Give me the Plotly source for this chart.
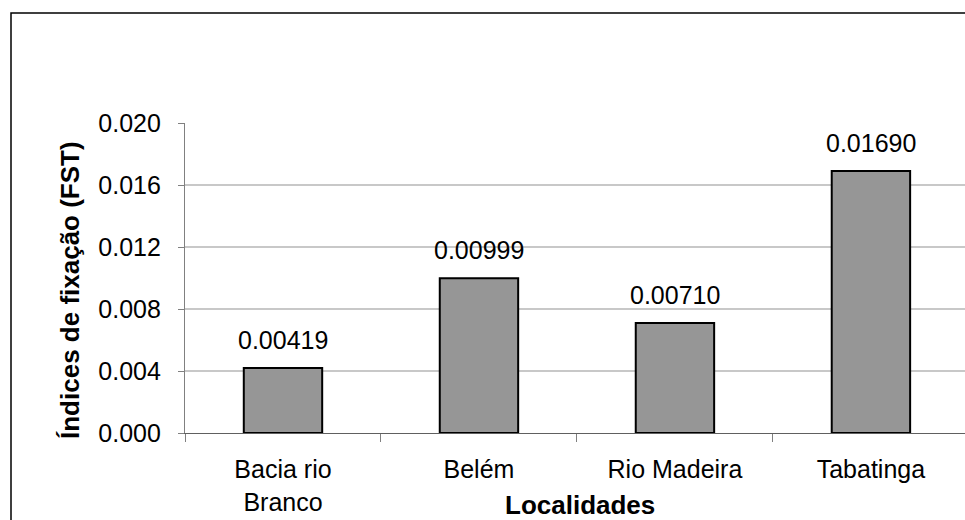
import plotly.graph_objects as go

categories = ["Bacia rio<br>Branco", "Belém", "Rio Madeira", "Tabatinga"]
values = [0.00419, 0.00999, 0.00710, 0.01690]
value_labels = ["0.00419", "0.00999", "0.00710", "0.01690"]
y_ticks = [0.000, 0.004, 0.008, 0.012, 0.016, 0.020]
y_tick_labels = ["0.000", "0.004", "0.008", "0.012", "0.016", "0.020"]

FONT = "Liberation Sans, Arial, sans-serif"
W, H = 965, 520
L, R, T, B = 185, 0, 123, 87
pw, ph = W - L - R, H - T - B

def px(x):
    return (x - L) / pw

def py(y):
    return (H - B - y) / ph

fig = go.Figure()
fig.add_trace(go.Bar(
    x=categories, y=values, width=0.4,
    marker=dict(color="#969696", line=dict(color="#000000", width=2)),
    hoverinfo="skip",
))

for c, v, t in zip(categories, values, value_labels):
    fig.add_annotation(x=c, y=v, xref="x", yref="y", text=t, showarrow=False,
                       yanchor="bottom", yshift=12,
                       font=dict(family=FONT, size=25, color="#000000"))

fig.add_annotation(x=px(580), y=py(505), xref="paper", yref="paper",
                   text="<b>Localidades</b>", showarrow=False,
                   xanchor="center", yanchor="middle",
                   font=dict(family=FONT, size=26, color="#000000"))
fig.add_annotation(x=px(70), y=py(290), xref="paper", yref="paper",
                   text="<b>Índices de fixação (FST)</b>", showarrow=False,
                   textangle=-90, xanchor="center", yanchor="middle",
                   font=dict(family=FONT, size=26, color="#000000"))

fig.add_shape(type="rect", xref="paper", yref="paper",
              x0=px(11), x1=1.2, y0=-0.5, y1=py(13),
              line=dict(color="#000000", width=1.5), fillcolor="rgba(0,0,0,0)",
              layer="above")

fig.update_layout(
    width=W, height=H,
    margin=dict(l=L, r=R, t=T, b=B, pad=0),
    paper_bgcolor="#ffffff", plot_bgcolor="#ffffff",
    showlegend=False, bargap=0.6,
    font=dict(family=FONT, size=25, color="#000000"),
)
fig.update_xaxes(
    type="category", range=[-0.5, 3.48],
    showline=True, linecolor="#606060", linewidth=1.2,
    ticks="outside", tickson="boundaries", ticklen=8, tickcolor="#808080", tickwidth=1.2,
    showgrid=False, ticklabelstandoff=14,
    tickfont=dict(family=FONT, size=25, color="#000000"),
)
fig.update_yaxes(
    range=[0, 0.020], tickvals=y_ticks, ticktext=y_tick_labels,
    showline=True, linecolor="#808080", linewidth=1.2,
    ticks="outside", ticklen=6, tickcolor="#808080", tickwidth=1.2,
    showgrid=True, gridcolor="#c8c8c8", gridwidth=1.5,
    zeroline=False, ticklabelstandoff=12,
    tickfont=dict(family=FONT, size=25, color="#000000"),
)

fig.write_html("out.html", config={"displayModeBar": False},
               post_script="document.body.style.margin='0px';document.body.style.overflow='hidden';")
